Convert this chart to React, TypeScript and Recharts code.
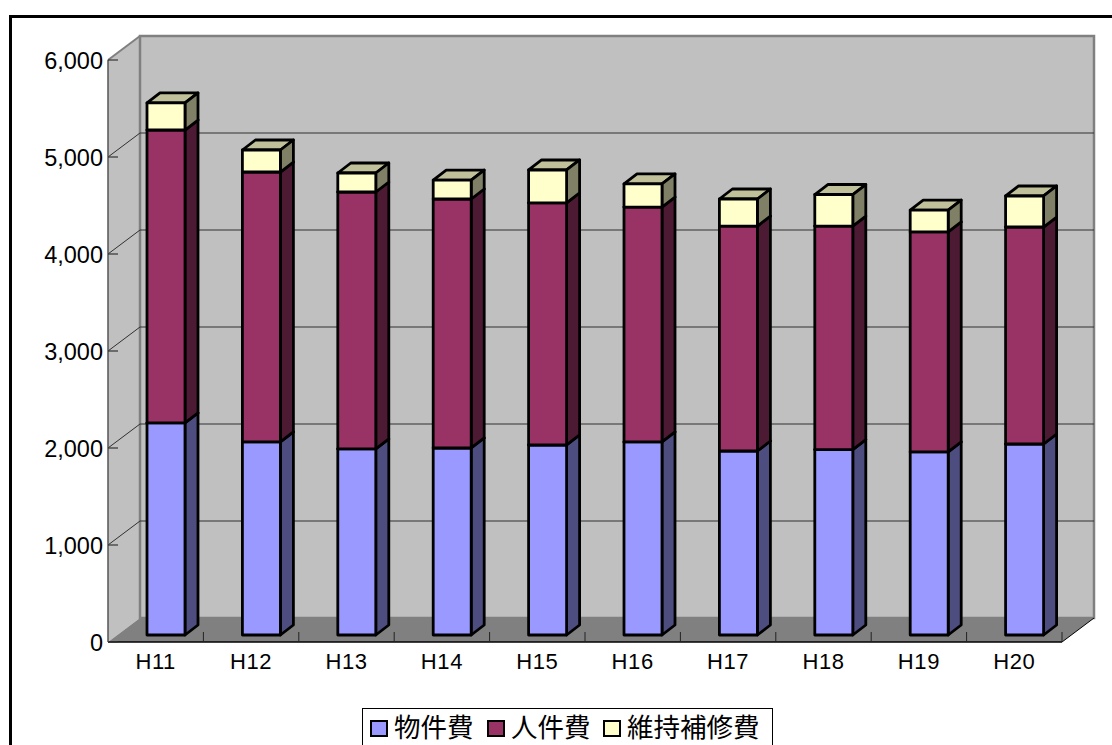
import React from "react";
import { BarChart, Bar, XAxis, YAxis, usePlotArea } from "recharts";

const years = ["H11", "H12", "H13", "H14", "H15", "H16", "H17", "H18", "H19", "H20"];
const goods = [2186, 1990, 1918, 1928, 1959, 1990, 1897, 1912, 1887, 1969];
const labor = [3020, 2783, 2649, 2567, 2495, 2422, 2319, 2304, 2268, 2237];
const repair = [279, 227, 196, 195, 340, 238, 279, 325, 226, 320];
const yTicks = [0, 1000, 2000, 3000, 4000, 5000, 6000];

const seriesNames = ["物件費", "人件費", "維持補修費"];
const seriesColors = ["#9999FF", "#993366", "#FFFFCC"];
const sideColors = ["#4D4D80", "#4D1A33", "#808066"];
const topColor = "#C0C09A";

const data = years.map((year, i) => ({
  year,
  goods: goods[i],
  labor: labor[i],
  repair: repair[i],
}));

const DEPTH_X = 32;
const DEPTH_Y = 24;
const yMax = yTicks[yTicks.length - 1];

// the box sits a little behind the front plane of the plot
const BoxShape = (props: any) => {
  const { x, y, width, height, fill, side } = props;
  const sx = x + 10;
  const sy = y - 7;
  const dx = 13;
  const dy = 10;
  const line = { stroke: "#000", strokeWidth: 2.8, strokeLinejoin: "round" as const };
  return (
    <g>
      <polygon
        points={`${sx},${sy} ${sx + dx},${sy - dy} ${sx + width + dx},${sy - dy} ${sx + width},${sy}`}
        fill={topColor}
        {...line}
      />
      <polygon
        points={`${sx + width},${sy} ${sx + width + dx},${sy - dy} ${sx + width + dx},${sy + height - dy} ${sx + width},${sy + height}`}
        fill={side}
        {...line}
      />
      <rect x={sx} y={sy} width={width} height={height} fill={fill} {...line} />
    </g>
  );
};

const Walls = () => {
  const area = usePlotArea();
  if (!area) return null;
  const { x, y, width, height } = area;
  const bottom = y + height;
  const right = x + width;
  return (
    <g>
      <polygon points={`${x},${y} ${x + DEPTH_X},${y - DEPTH_Y} ${x + DEPTH_X},${bottom - DEPTH_Y} ${x},${bottom}`} fill="#C0C0C0" />
      <rect x={x + DEPTH_X} y={y - DEPTH_Y} width={width} height={height} fill="#C0C0C0" stroke="#808080" strokeWidth={2.5} />
      <polygon points={`${x},${bottom} ${x + DEPTH_X},${bottom - DEPTH_Y} ${right + DEPTH_X},${bottom - DEPTH_Y} ${right},${bottom}`} fill="#808080" />
      <line x1={x} y1={y} x2={x + DEPTH_X} y2={y - DEPTH_Y} stroke="#808080" strokeWidth={2} />
      <line x1={right} y1={bottom} x2={right + DEPTH_X} y2={bottom - DEPTH_Y} stroke="#000" />
      {yTicks.slice(1, -1).map((t) => {
        const ty = bottom - (t / yMax) * height;
        return (
          <polyline
            key={t}
            points={`${x},${ty} ${x + DEPTH_X},${ty - DEPTH_Y} ${right + DEPTH_X},${ty - DEPTH_Y}`}
            fill="none"
            stroke="#303030"
          />
        );
      })}
    </g>
  );
};

const YTick = (props: any) => {
  const { x, y, payload } = props;
  return (
    <g>
      <line x1={108} x2={118} y1={y} y2={y} stroke="#333" strokeWidth={1.2} />
      <text x={x - 1} y={y + 9} textAnchor="end" fontSize={23.5} fill="#000" fontFamily="Liberation Sans">
        {payload.value.toLocaleString("en-US")}
      </text>
    </g>
  );
};

const XTick = (props: any) => {
  const { x, y, payload } = props;
  const band = 954 / years.length;
  return (
    <g>
      <line x1={x + band / 2} x2={x + band / 2} y1={642} y2={632} stroke="#222" />
      <text x={x} y={y + 19} textAnchor="middle" fontSize={22} letterSpacing={0.6} fill="#000" fontFamily="Liberation Sans">
        {payload.value}
      </text>
    </g>
  );
};

const LegendBox = () => (
  <div
    style={{
      position: "absolute",
      left: 362,
      top: 708,
      width: 411,
      height: 37,
      boxSizing: "border-box",
      borderTop: "1.5px solid #000",
      borderLeft: "1.5px solid #000",
      borderRight: "1.5px solid #000",
      background: "#fff",
      fontFamily: "Noto Sans CJK JP",
      fontSize: 26.5,
      lineHeight: "30px",
      color: "#000",
    }}
  >
    {seriesNames.map((name, i) => (
      <div
        key={name}
        style={{
          position: "absolute",
          left: [7, 124, 240][i],
          top: 2,
          display: "flex",
          alignItems: "center",
          whiteSpace: "nowrap",
        }}
      >
        <span
          style={{
            display: "inline-block",
            width: 14,
            height: 13,
            marginRight: 6,
            position: "relative",
            top: 2,
            background: seriesColors[i],
            border: "2.5px solid #000",
          }}
        />
        {name}
      </div>
    ))}
  </div>
);

export default function App() {
  return (
    <div style={{ position: "absolute", left: 0, top: 0, width: 1112, height: 745, overflow: "hidden", background: "#fff" }}>
      <div
        style={{
          position: "absolute",
          left: 9,
          top: 15,
          width: 1300,
          height: 900,
          boxSizing: "border-box",
          border: "3px solid #000",
        }}
      />
      <div style={{ position: "absolute", left: 0, top: 0 }}>
        <BarChart
          width={1112}
          height={745}
          data={data}
          margin={{ top: 60, right: 50, bottom: 0, left: 4 }}
          barSize={38}
        >
          <Walls />
          <XAxis
            dataKey="year"
            height={103}
            axisLine={{ stroke: "#000", strokeWidth: 1.5 }}
            tickLine={false}
            tick={<XTick />}
            interval={0}
          />
          <YAxis
            width={104}
            domain={[0, yMax]}
            ticks={yTicks}
            axisLine={{ stroke: "#555", strokeWidth: 1.5 }}
            tickLine={false}
            tickMargin={0}
            tickSize={4}
            tick={<YTick />}
            interval={0}
          />
          <Bar dataKey="goods" name={seriesNames[0]} stackId="a" fill={seriesColors[0]} isAnimationActive={false} shape={<BoxShape side={sideColors[0]} />} />
          <Bar dataKey="labor" name={seriesNames[1]} stackId="a" fill={seriesColors[1]} isAnimationActive={false} shape={<BoxShape side={sideColors[1]} />} />
          <Bar dataKey="repair" name={seriesNames[2]} stackId="a" fill={seriesColors[2]} isAnimationActive={false} shape={<BoxShape side={sideColors[2]} />} />
        </BarChart>
      </div>
      <LegendBox />
    </div>
  );
}
